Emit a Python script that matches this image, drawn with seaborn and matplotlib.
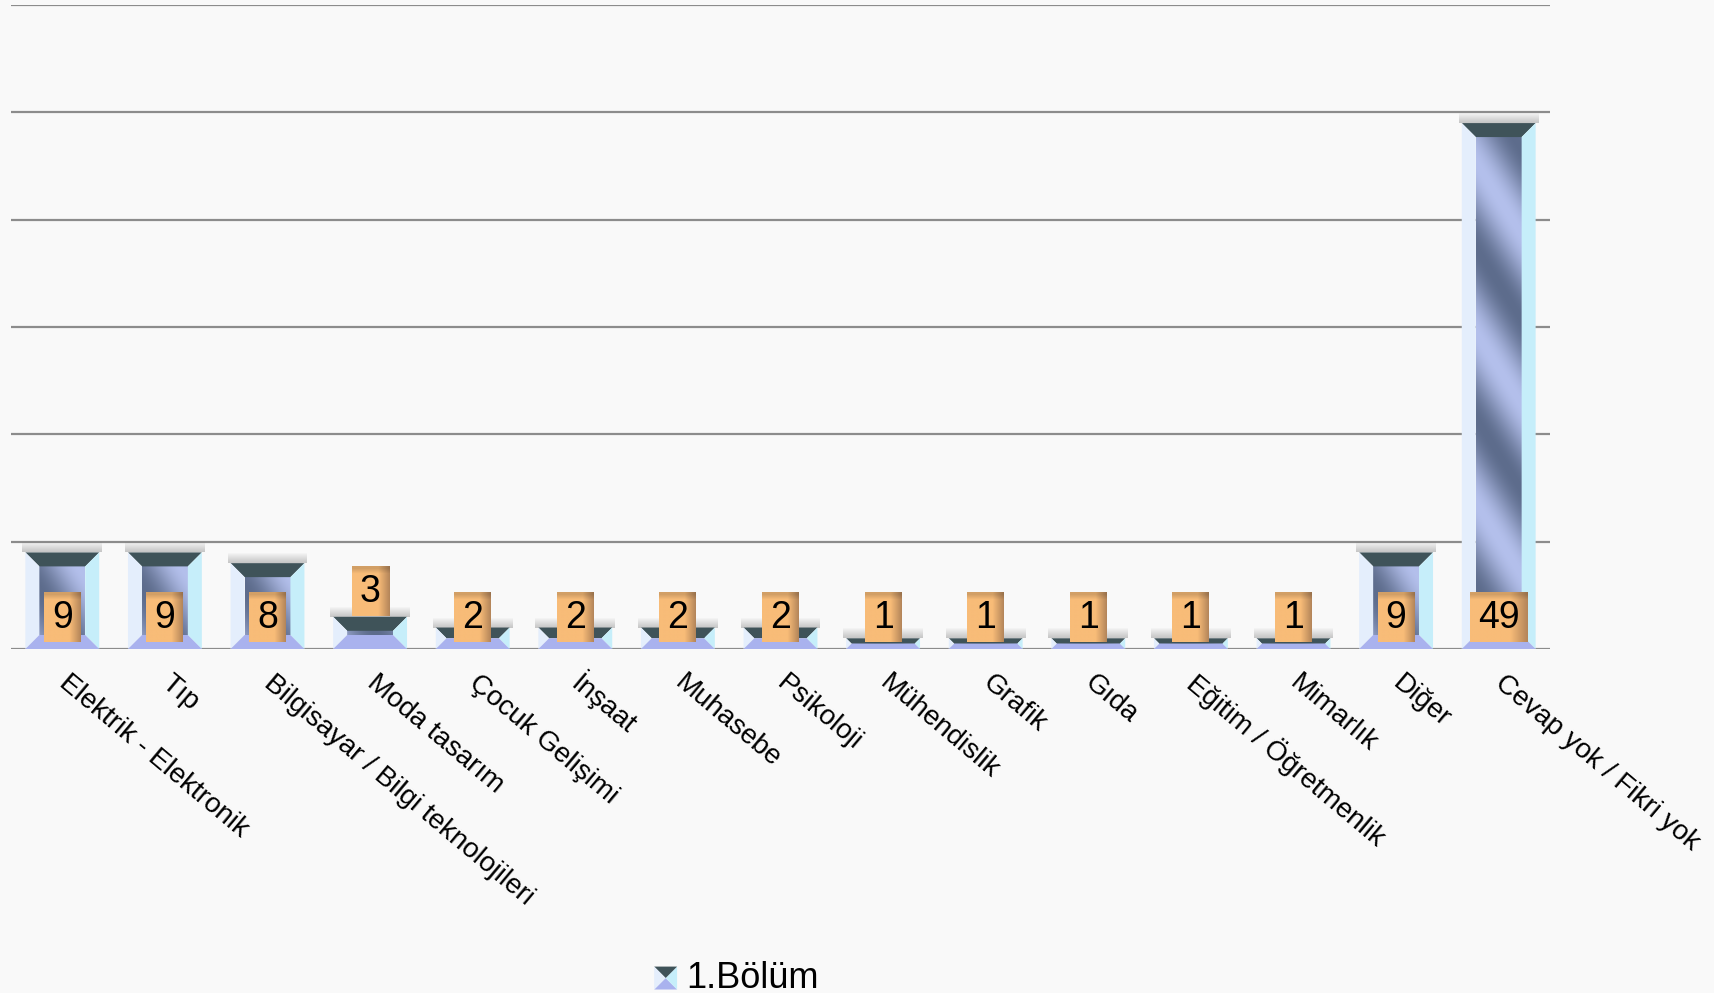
import numpy as np
import pandas as pd
import seaborn as sns
import matplotlib.pyplot as plt
from matplotlib.patches import Polygon, Rectangle
from matplotlib.legend_handler import HandlerBase
from matplotlib.colors import to_rgb

# ---------------- Data ----------------
categories = ['Elektrik - Elektronik', 'Tıp', 'Bilgisayar / Bilgi teknolojileri',
              'Moda tasarım', 'Çocuk Gelişimi', 'İnşaat', 'Muhasebe', 'Psikoloji',
              'Mühendislik', 'Grafik', 'Gıda', 'Eğitim / Öğretmenlik', 'Mimarlık',
              'Diğer', 'Cevap yok / Fikri yok']
values = [9, 9, 8, 3, 2, 2, 2, 2, 1, 1, 1, 1, 1, 9, 49]
series_name = '1.Bölüm'

df = pd.DataFrame({'Bölüm': categories, 'Sayı': values})

# ---------------- Figure ----------------
sns.set_theme(style='white')
plt.rcParams['font.family'] = ['Liberation Sans', 'DejaVu Sans']
plt.rcParams['text.color'] = 'black'
bg = '#f9f9f9'
W, H = 1714, 993
fig = plt.figure(figsize=(W / 100, H / 100), dpi=100, facecolor=bg)
ax = fig.add_axes([11 / W, 1 - 649 / H, 1539 / W, 644 / H], facecolor=bg)

sns.barplot(data=df, x='Bölüm', y='Sayı', ax=ax, width=0.72, color='#7888a8',
            saturation=1, zorder=2)
ax.set_autoscale_on(False)
ax.set_xlim(-0.5, len(values) - 0.5)
ax.set_ylim(0, 60)
ax.set_yticks(range(0, 61, 10))
ax.set_yticklabels([])
ax.yaxis.grid(True, color='#8c8c8c', lw=1.6, zorder=0)
ax.set_axisbelow(True)
sns.despine(ax=ax, left=True, right=True, top=True, bottom=True)
ax.set_xlabel('')
ax.set_ylabel('')
ax.tick_params(axis='x', length=0, pad=22, labelsize=20, labelcolor='black')
ax.tick_params(axis='y', length=0)
plt.setp(ax.get_xticklabels(), rotation=-40, ha='left', rotation_mode='anchor', va='center')

# pixel -> data scale
px_x = (ax.transData.transform((1, 0))[0] - ax.transData.transform((0, 0))[0])
px_y = (ax.transData.transform((0, 1))[1] - ax.transData.transform((0, 0))[1])


def grad_img(wpx, hpx, c_dark, c_light, period=150.0, phase=0.0):
    # diagonal streaky gradient, rows bottom->top
    xs = np.arange(max(int(wpx), 2))
    ys = np.arange(max(int(hpx), 2))
    X, Y = np.meshgrid(xs, ys)
    t = 0.5 + 0.5 * np.cos(2 * np.pi * (X * 1.6 + Y + phase) / period)
    d = np.array(to_rgb(c_dark))
    l = np.array(to_rgb(c_light))
    return d[None, None, :] * (1 - t[..., None]) + l[None, None, :] * t[..., None]


bars = ax.patches[:len(values)]
for p, v in zip(bars, values):
    x0 = p.get_x()
    x1 = x0 + p.get_width()
    y0 = 0
    y1 = p.get_height()
    hpx = y1 * px_y
    b = min(14.0, hpx / 2)
    bx, by = b / px_x, b / px_y

    # soft shadow above bar
    for k in range(1, 11):
        ax.add_patch(Rectangle((x0 - 3 / px_x, y1), (x1 - x0) + 6 / px_x, k / px_y,
                               fc='#505050', ec='none', alpha=0.03, zorder=2.5))

    # inner face
    iw = (x1 - x0 - 2 * bx) * px_x
    ih = max((y1 - 2 * by) * px_y, 2)
    img = grad_img(iw, ih, '#5d6c8c', '#b4c0ec', period=170, phase=40)
    ax.imshow(img, extent=(x0 + bx, x1 - bx, y0 + by, max(y1 - by, y0 + by + 0.01)),
              origin='lower', aspect='auto', interpolation='bilinear', zorder=3)

    # bevels
    ax.add_patch(Polygon([(x0, y1), (x1, y1), (x1 - bx, y1 - by), (x0 + bx, y1 - by)],
                         closed=True, fc='#3f5359', ec='none', zorder=4))
    ax.add_patch(Polygon([(x0, y0), (x0, y1), (x0 + bx, y1 - by), (x0 + bx, y0 + by)],
                         closed=True, fc='#e4eefc', ec='none', zorder=4))
    ax.add_patch(Polygon([(x1, y0), (x1, y1), (x1 - bx, y1 - by), (x1 - bx, y0 + by)],
                         closed=True, fc='#c6eefa', ec='none', zorder=4))
    ax.add_patch(Polygon([(x0, y0), (x1, y0), (x1 - bx, y0 + by), (x0 + bx, y0 + by)],
                         closed=True, fc='#a9b2ee', ec='none', zorder=4))
    p.set_visible(False)

    # value label box
    cx = (x0 + x1) / 2
    s = str(v)
    wbox = (17 + 20 * len(s)) / px_x
    hbox = 50 / px_y
    if 3 <= v < 5:
        yb = y1 + 1 / px_y
    else:
        yb = 7 / px_y
    gx = np.linspace(0, 1, 40)
    shade = np.clip((gx - 0.7) / 0.3, 0, 1)
    c1 = np.array(to_rgb('#f8bc78'))
    c2 = np.array(to_rgb('#b5865a'))
    row = c1[None, :] * (1 - shade[:, None]) + c2[None, :] * shade[:, None]
    boximg = np.repeat(row[None, :, :], 10, axis=0)
    boximg[-1, :, :] = boximg[-1, :, :] * 0.85
    ax.imshow(boximg, extent=(cx - wbox / 2, cx + wbox / 2, yb, yb + hbox),
              origin='lower', aspect='auto', interpolation='bilinear', zorder=5)
    ax.text(cx, yb + hbox / 2 - 1 / px_y, s, ha='center', va='center', fontsize=27,
            color='black', zorder=6)


# legend with small bevel icon
class BevelHandler(HandlerBase):
    def create_artists(self, legend, orig_handle, xd, yd, width, height, fontsize, trans):
        s = height * 1.0
        x0 = xd + width - s
        y0 = yd
        c = (x0 + s / 2, y0 + s / 2)
        pts = [(x0, y0), (x0 + s, y0), (x0 + s, y0 + s), (x0, y0 + s)]
        cols = ['#a9b2ee', '#c6eefa', '#3f5359', '#e4eefc']
        arts = []
        for i in range(4):
            tri = Polygon([pts[i], pts[(i + 1) % 4], c], closed=True, fc=cols[i],
                          ec='none', transform=trans)
            arts.append(tri)
        return arts


handle = Rectangle((0, 0), 1, 1)
fig.legend([handle], [series_name], handler_map={Rectangle: BevelHandler()},
           loc='lower center', bbox_to_anchor=(0.43, -0.036), frameon=False,
           fontsize=26, handlelength=0.6, handleheight=0.6, handletextpad=0.25,
           labelcolor='black')

fig.savefig('out.png', dpi=100, facecolor=bg)
